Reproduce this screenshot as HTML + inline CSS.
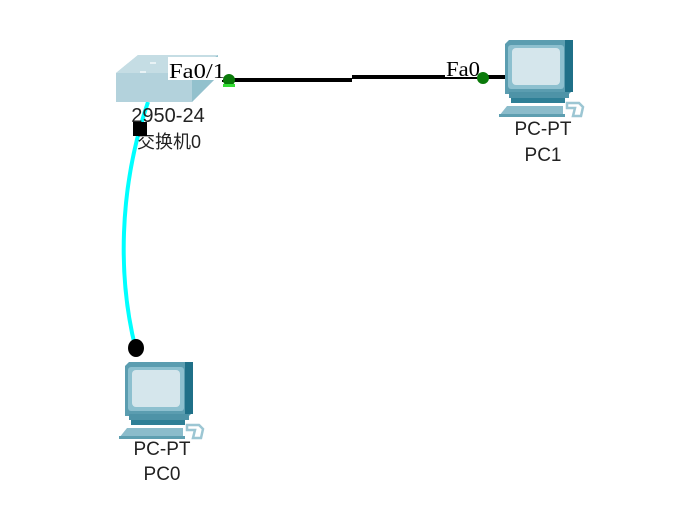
<!DOCTYPE html>
<html><head><meta charset="utf-8"><style>html,body{margin:0;padding:0;background:#fff;width:689px;height:518px;overflow:hidden}</style></head>
<body>
<svg width="689" height="518" viewBox="0 0 689 518" xmlns="http://www.w3.org/2000/svg">
<defs>
<g id="pc">
 <path d="M0,4 L4,0 L68,0 L68,50 L64,54 L0,54 Z" fill="#5b9db0"/>
 <rect x="60" y="0" width="8" height="52" fill="#1f7088"/>
 <rect x="3" y="5" width="56" height="44" rx="3" fill="#8dc0cf"/>
 <rect x="7" y="8" width="48" height="37" rx="4" fill="#d5e6ec"/>
 <rect x="4" y="52" width="60" height="6" fill="#4e93a7"/>
 <rect x="6" y="58" width="54" height="5" fill="#2e7f96"/>
 <path d="M-6,76 L2,66 L58,66 L58,76 Z" fill="#8bbccb"/>
 <rect x="-6" y="74" width="66" height="3" fill="#5e9fb1"/>
 <path d="M62,63 L74,63 L78,67 L76,76 L68,76 L70,68 L62,68 Z" fill="none" stroke="#9cc6d3" stroke-width="2.5"/>
</g>
</defs>
<path d="M148,102 C118,190 118,280 136,350" fill="none" stroke="#00ffff" stroke-width="4"/>
<line x1="222" y1="80" x2="352" y2="80" stroke="#000" stroke-width="4"/>
<line x1="352" y1="77" x2="508" y2="77" stroke="#000" stroke-width="4"/>
<path d="M116,73 L138,55 L218,55 L218,76 L192,102 L116,102 Z" fill="#b3d2dc"/>
<path d="M192,73 L218,55 L218,76 L192,102 Z" fill="#93c1cd"/>
<path d="M116,73 L138,55 L218,55 L192,73 Z" fill="#c5dde4"/>
<rect x="150" y="62" width="6" height="2" fill="#e8f2f5"/><rect x="140" y="71" width="6" height="2" fill="#e8f2f5"/>
<rect x="168" y="57" width="58" height="23" fill="#fff"/>
<text x="169" y="78" font-family="Liberation Serif, serif" font-size="21" textLength="56" lengthAdjust="spacingAndGlyphs">Fa0/1</text>
<circle cx="229" cy="80" r="6" fill="#0a7a0a"/><rect x="223" y="84" width="12" height="3" fill="#33dd33"/>
<rect x="445" y="58" width="36" height="19" fill="#fff"/>
<text x="446" y="76" font-family="Liberation Serif, serif" font-size="21" textLength="34" lengthAdjust="spacingAndGlyphs">Fa0</text>
<circle cx="483" cy="78" r="6" fill="#0a7a0a"/>
<use href="#pc" x="505" y="40"/>
<use href="#pc" x="125" y="362"/>
<text x="168" y="122" text-anchor="middle" font-family="Liberation Sans, sans-serif" font-size="20" fill="#222">2950-24</text>
<text x="169" y="148" text-anchor="middle" font-family="Liberation Sans, 'Noto Sans CJK SC', sans-serif" font-size="18" fill="#222">交换机0</text>
<rect x="133" y="122" width="14" height="14" fill="#000"/>
<ellipse cx="136" cy="348" rx="8" ry="9" fill="#000"/>
<text x="543" y="135" text-anchor="middle" font-family="Liberation Sans, sans-serif" font-size="19" fill="#222">PC-PT</text>
<text x="543" y="161" text-anchor="middle" font-family="Liberation Sans, sans-serif" font-size="19" fill="#222">PC1</text>
<text x="162" y="455" text-anchor="middle" font-family="Liberation Sans, sans-serif" font-size="19" fill="#222">PC-PT</text>
<text x="162" y="480" text-anchor="middle" font-family="Liberation Sans, sans-serif" font-size="19" fill="#222">PC0</text>
</svg>
</body></html>
